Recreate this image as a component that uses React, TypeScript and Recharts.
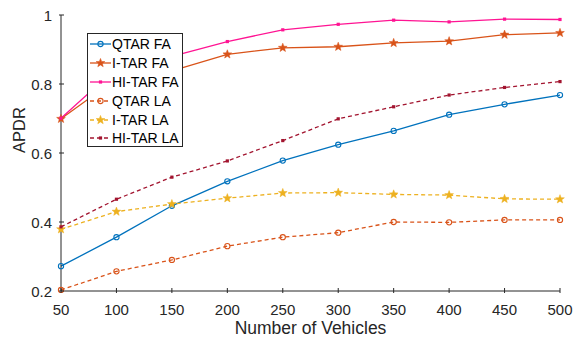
import React from "react";
import { LineChart, Line, XAxis, YAxis, Legend } from "recharts";

const vehicles = [50, 100, 150, 200, 250, 300, 350, 400, 450, 500];
const qtarFA = [0.272, 0.356, 0.447, 0.518, 0.578, 0.624, 0.664, 0.711, 0.741, 0.768];
const itarFA = [0.699, 0.815, 0.838, 0.886, 0.905, 0.908, 0.919, 0.924, 0.943, 0.948];
const hitarFA = [0.701, 0.846, 0.88, 0.923, 0.957, 0.973, 0.985, 0.98, 0.988, 0.987];
const qtarLA = [0.203, 0.257, 0.29, 0.33, 0.356, 0.369, 0.4, 0.399, 0.406, 0.406];
const itarLA = [0.379, 0.43, 0.452, 0.469, 0.484, 0.485, 0.48, 0.478, 0.467, 0.466];
const hitarLA = [0.386, 0.466, 0.53, 0.577, 0.636, 0.699, 0.734, 0.768, 0.79, 0.807];
const yTicks = [0.2, 0.4, 0.6, 0.8, 1];

const series = [
  { key: "qtarFA", name: "QTAR FA", color: "#0072BD", shape: "circle", dashed: false },
  { key: "itarFA", name: "I-TAR FA", color: "#D95319", shape: "star", dashed: false },
  { key: "hitarFA", name: "HI-TAR FA", color: "#FF1493", shape: "square", dashed: false },
  { key: "qtarLA", name: "QTAR LA", color: "#D95319", shape: "circle", dashed: true },
  { key: "itarLA", name: "I-TAR LA", color: "#EDB120", shape: "star", dashed: true },
  { key: "hitarLA", name: "HI-TAR LA", color: "#A2142F", shape: "square", dashed: true },
];

const data = vehicles.map((n, i) => ({
  n,
  qtarFA: qtarFA[i],
  itarFA: itarFA[i],
  hitarFA: hitarFA[i],
  qtarLA: qtarLA[i],
  itarLA: itarLA[i],
  hitarLA: hitarLA[i],
}));

const AXIS = "#262626";
const FONT = "'Liberation Sans', Arial, sans-serif";

const starPath = (cx: number, cy: number, r: number) => {
  const pts: string[] = [];
  for (let i = 0; i < 10; i++) {
    const rad = i % 2 === 0 ? r : r * 0.42;
    const a = -Math.PI / 2 + (i * Math.PI) / 5;
    pts.push(`${cx + rad * Math.cos(a)},${cy + rad * Math.sin(a)}`);
  }
  return "M" + pts.join("L") + "Z";
};

const Marker = ({ cx, cy, shape, color }: any) => {
  if (cx == null || cy == null) return null;
  if (shape === "circle")
    return <circle cx={cx} cy={cy} r={2.6} fill="none" stroke={color} strokeWidth={1.1} />;
  if (shape === "star") return <path d={starPath(cx, cy, 4.6)} fill={color} stroke={color} strokeWidth={0.5} />;
  return <rect x={cx - 1.6} y={cy - 1.6} width={3.2} height={3.2} fill={color} />;
};

// ticks point inwards, like the original figure
const BottomTick = ({ x, y, payload }: any) => (
  <g>
    <line x1={x} y1={y} x2={x} y2={y - 5} stroke={AXIS} />
    <text x={x} y={y + 22} textAnchor="middle" fontSize={15} fill={AXIS} fontFamily={FONT}>
      {payload.value}
    </text>
  </g>
);
const TopTick = ({ x, y }: any) => <line x1={x} y1={y} x2={x} y2={y + 5} stroke={AXIS} />;
const LeftTick = ({ x, y, payload }: any) => (
  <g>
    <line x1={x} y1={y} x2={x + 5} y2={y} stroke={AXIS} />
    <text x={x - 7} y={y + 5.5} textAnchor="end" fontSize={15} fill={AXIS} fontFamily={FONT}>
      {payload.value}
    </text>
  </g>
);
const RightTick = ({ x, y }: any) => <line x1={x} y1={y} x2={x - 5} y2={y} stroke={AXIS} />;

const LegendBox = () => (
  <div
    style={{
      background: "#fff",
      border: `1px solid ${AXIS}`,
      width: 96,
      height: 114,
      padding: "1px 0 0 0",
      fontFamily: FONT,
      fontSize: 14,
      color: "#000",
      boxSizing: "border-box",
    }}
  >
    {series.map((s) => (
      <div key={s.key} style={{ display: "flex", alignItems: "center", height: 18.8 }}>
        <svg width={23} height={12} style={{ marginLeft: 1, flexShrink: 0 }}>
          <line x1={1} y1={6} x2={22} y2={6} stroke={s.color} strokeWidth={1.3} strokeDasharray={s.dashed ? "4 3" : undefined} />
          <Marker cx={11.5} cy={6} shape={s.shape} color={s.color} />
        </svg>
        <span style={{ whiteSpace: "nowrap" }}>{s.name}</span>
      </div>
    ))}
  </div>
);

export default function App() {
  return (
    <div style={{ position: "absolute", left: 0, top: 0, background: "#fff" }}>
      <LineChart width={573} height={337} data={data} margin={{ top: 15, right: 13, left: 0, bottom: 0 }}>
        <XAxis
          xAxisId={0}
          dataKey="n"
          type="number"
          domain={[50, 500]}
          ticks={vehicles}
          height={46}
          tickSize={0}
          tickLine={false}
          tick={<BottomTick />}
          axisLine={{ stroke: AXIS }}
          label={{ value: "Number of Vehicles", position: "insideBottom", offset: 3, fontSize: 17.5, fill: AXIS, fontFamily: FONT }}
        />
        <XAxis
          xAxisId="top"
          orientation="top"
          dataKey="n"
          type="number"
          domain={[50, 500]}
          ticks={vehicles}
          height={0}
          tickSize={0}
          tickLine={false}
          tick={<TopTick />}
          axisLine={{ stroke: AXIS }}
        />
        <YAxis
          yAxisId={0}
          type="number"
          domain={[0.2, 1]}
          ticks={yTicks}
          width={61}
          tickSize={0}
          tickLine={false}
          tick={<LeftTick />}
          axisLine={{ stroke: AXIS }}
          label={{ value: "APDR", angle: -90, position: "insideLeft", offset: 19, fontSize: 16.5, fill: AXIS, fontFamily: FONT }}
        />
        <YAxis
          yAxisId="right"
          orientation="right"
          type="number"
          domain={[0.2, 1]}
          ticks={yTicks}
          width={0}
          tickSize={0}
          tickLine={false}
          tick={<RightTick />}
          axisLine={{ stroke: AXIS }}
        />
        {series.map((s) => (
          <Line
            key={s.key}
            dataKey={s.key}
            name={s.name}
            type="linear"
            stroke={s.color}
            strokeWidth={1.3}
            strokeDasharray={s.dashed ? "4 3" : undefined}
            dot={(p: any) => <Marker key={`${s.key}-${p.index}`} cx={p.cx} cy={p.cy} shape={s.shape} color={s.color} />}
            activeDot={false}
            isAnimationActive={false}
          />
        ))}
        <Legend
          layout="horizontal"
          verticalAlign="middle"
          align="center"
          content={<LegendBox />}
          wrapperStyle={{ position: "absolute", left: 87, top: 33, width: 96, height: 114 }}
        />
      </LineChart>
    </div>
  );
}
